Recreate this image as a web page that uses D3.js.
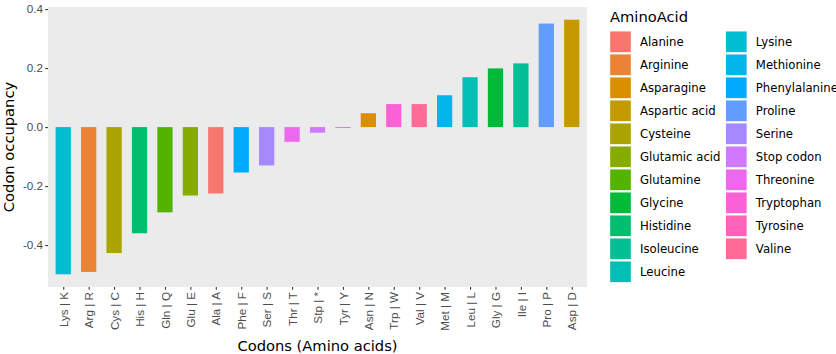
<!DOCTYPE html>
<html><head><meta charset="utf-8">
<script src="https://cdn.jsdelivr.net/npm/d3@7"></script>
<style>body{margin:0;background:#fff}svg{display:block;font-family:"DejaVu Sans",sans-serif}</style>
</head><body><svg id="c" width="836" height="354"></svg>
<script>
const codons = ["Lys | K","Arg | R","Cys | C","His | H","Gln | Q","Glu | E","Ala | A","Phe | F","Ser | S","Thr | T","Stp | *","Tyr | Y","Asn | N","Trp | W","Val | V","Met | M","Leu | L","Gly | G","Ile | I","Pro | P","Asp | D"];
const aminoAcid = ["Lysine","Arginine","Cysteine","Histidine","Glutamine","Glutamic acid","Alanine","Phenylalanine","Serine","Threonine","Stop codon","Tyrosine","Asparagine","Tryptophan","Valine","Methionine","Leucine","Glycine","Isoleucine","Proline","Aspartic acid"];
const occupancy = [-0.499,-0.491,-0.427,-0.360,-0.289,-0.232,-0.225,-0.154,-0.130,-0.050,-0.019,-0.003,0.047,0.078,0.078,0.108,0.169,0.199,0.216,0.351,0.364];
const legendLevels = ["Alanine","Arginine","Asparagine","Aspartic acid","Cysteine","Glutamic acid","Glutamine","Glycine","Histidine","Isoleucine","Leucine","Lysine","Methionine","Phenylalanine","Proline","Serine","Stop codon","Threonine","Tryptophan","Tyrosine","Valine"];
const yTicks = [-0.4,-0.2,0.0,0.2,0.4];

// ggplot2 hue palette (R hcl polarLUV -> sRGB)
function rhcl(h,c,l){
  const WX=95.047,WY=100,WZ=108.883;
  const hr=h*Math.PI/180, U=c*Math.cos(hr), V=c*Math.sin(hr);
  const Y=WY*(l>7.999592?Math.pow((l+16)/116,3):l/903.3);
  const t=WX+WY+WZ, x=WX/t, y=WY/t;
  const un=2*x/(6*y-x+1.5), vn=4.5*y/(6*y-x+1.5);
  const u=U/(13*l)+un, v=V/(13*l)+vn;
  const X=9*Y*u/(4*v), Z=-X/3-5*Y+3*Y/v;
  const g=q=>{q=q>0.00304?1.055*Math.pow(q,1/2.4)-0.055:12.92*q;return Math.round(255*Math.max(0,Math.min(1,q)));};
  const r=g((3.240479*X-1.537150*Y-0.498535*Z)/WY), gg=g((-0.969256*X+1.875992*Y+0.041556*Z)/WY), b=g((0.055648*X-0.204043*Y+1.057311*Z)/WY);
  return d3.rgb(r,gg,b).formatHex();
}
const n=legendLevels.length;
const palette=legendLevels.map((d,i)=>rhcl(15+i*360/n,100,65));
const color=d3.scaleOrdinal().domain(legendLevels).range(palette);

const svg=d3.select("#c");
const L=48,R=587,T=7,B=287;
const x=d3.scalePoint().domain(codons).range([L,R]).padding(0.6);
const step=(R-L)/(codons.length-1+1.2);
const ymin=d3.min(occupancy), ymax=d3.max(occupancy), pad=(ymax-ymin)*0.05;
const y=d3.scaleLinear().domain([ymin-pad,ymax+pad]).range([B,T]);

svg.append("rect").attr("x",L).attr("y",T).attr("width",R-L).attr("height",B-T).attr("fill","#EBEBEB");

svg.append("g").selectAll("rect").data(codons).join("rect")
  .attr("x",d=>x(d)-step*0.3).attr("width",step*0.6)
  .attr("y",(d,i)=>y(Math.max(0,occupancy[i])))
  .attr("height",(d,i)=>Math.abs(y(occupancy[i])-y(0)))
  .attr("fill",(d,i)=>color(aminoAcid[i]));

const ya=svg.append("g").attr("transform",`translate(${L},0)`)
  .call(d3.axisLeft(y).tickValues(yTicks).tickFormat(d3.format(".1f")).tickSize(2.75).tickPadding(2.2));
ya.select(".domain").remove();
ya.selectAll("line").attr("stroke","#333").attr("stroke-width",1.07);
ya.selectAll("text").attr("fill","#4D4D4D").style("font-size","11.7px").text(d=>d3.format(".1f")(d).replace("−","-"));

const xa=svg.append("g").attr("transform",`translate(0,${B})`)
  .call(d3.axisBottom(x).tickSize(2.75).tickPadding(2.2));
xa.select(".domain").remove();
xa.selectAll("line").attr("stroke","#333").attr("stroke-width",1.07);
xa.selectAll("text").attr("fill","#4D4D4D").style("font-size","11.7px")
  .attr("transform","rotate(-90)").attr("text-anchor","end").attr("dy","0.35em").attr("x",-5).attr("y",0);

svg.append("text").attr("x",(L+R)/2).attr("y",351).attr("text-anchor","middle")
  .style("font-size","14.7px").attr("fill","#000").text("Codons (Amino acids)");
svg.append("text").attr("transform",`translate(14,${(T+B)/2}) rotate(-90)`).attr("text-anchor","middle")
  .style("font-size","14.7px").attr("fill","#000").text("Codon occupancy");

// legend
const lg=svg.append("g");
lg.append("text").attr("x",610).attr("y",22).style("font-size","14.7px").text("AminoAcid");
const perCol=11, keyH=23;
legendLevels.forEach((lv,i)=>{
  const col=Math.floor(i/perCol), row=i%perCol;
  const kx=col?725.5:609.7, ky=31+row*keyH;
  lg.append("rect").attr("x",kx).attr("y",ky).attr("width",21.6).attr("height",21.6).attr("fill","#F2F2F2");
  lg.append("rect").attr("x",kx+0.5).attr("y",ky+0.5).attr("width",20.6).attr("height",20.6).attr("fill",color(lv));
  lg.append("text").attr("x",kx+30.3).attr("y",ky+10.8).attr("dy","0.35em").style("font-size","11.7px").attr("fill","#000").text(lv);
});
</script></body></html>
